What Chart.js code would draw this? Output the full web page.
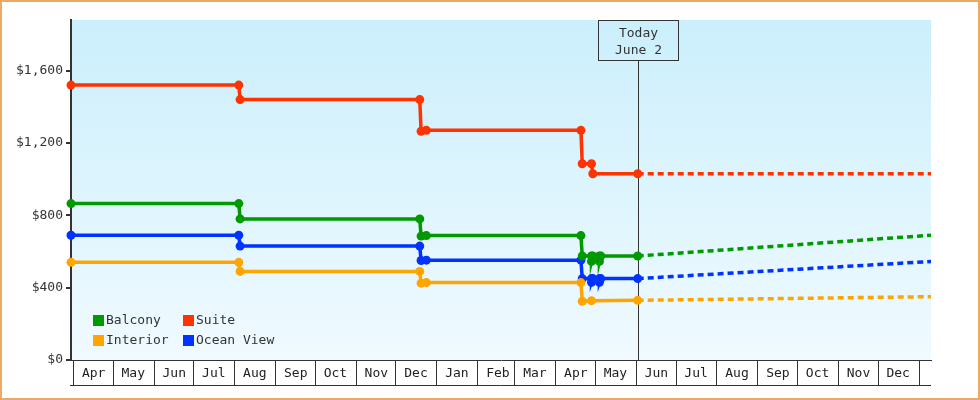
<!DOCTYPE html>
<html>
<head>
<meta charset="utf-8">
<script src="https://cdn.jsdelivr.net/npm/chart.js@4.4.1/dist/chart.umd.min.js"></script>
<style>
  html, body { margin: 0; padding: 0; background: #fff; }
  #wrap { width: 980px; height: 400px; box-sizing: border-box; border: 2px solid #eba964; background: #fff; }
  #chart { display: block; }
</style>
</head>
<body>
<div id="wrap"><canvas id="chart" width="976" height="396"></canvas></div>
<script>
// price history per cabin type: [date, price]
const balcony = [
  ['2009-03-30', 865], ['2009-08-04', 865], ['2009-08-05', 780], ['2009-12-19', 780],
  ['2009-12-20', 685], ['2009-12-24', 688], ['2010-04-20', 688], ['2010-04-21', 575],
  ['2010-04-28', 575], ['2010-04-28', 545], ['2010-04-29', 575], ['2010-05-04', 575],
  ['2010-05-04', 545], ['2010-05-05', 575], ['2010-06-02', 575]
];
const suite = [
  ['2009-03-30', 1520], ['2009-08-04', 1520], ['2009-08-05', 1440], ['2009-12-19', 1440],
  ['2009-12-20', 1265], ['2009-12-24', 1270], ['2010-04-20', 1270], ['2010-04-21', 1085],
  ['2010-04-28', 1085], ['2010-04-29', 1030], ['2010-06-02', 1030]
];
const interior = [
  ['2009-03-30', 540], ['2009-08-04', 540], ['2009-08-05', 490], ['2009-12-19', 490],
  ['2009-12-20', 425], ['2009-12-24', 428], ['2010-04-20', 428], ['2010-04-21', 325],
  ['2010-04-28', 328], ['2010-06-02', 330]
];
const oceanView = [
  ['2009-03-30', 690], ['2009-08-04', 690], ['2009-08-05', 630], ['2009-12-19', 630],
  ['2009-12-20', 550], ['2009-12-24', 552], ['2010-04-20', 552], ['2010-04-21', 450],
  ['2010-04-28', 450], ['2010-04-28', 430], ['2010-04-29', 450], ['2010-05-04', 450],
  ['2010-05-04', 430], ['2010-05-05', 450], ['2010-06-02', 450]
];

// forecast from today to end of range (dotted)
const forecastEnd = '2011-01-10';
const balconyForecast = [['2010-06-02', 575], [forecastEnd, 690]];
const suiteForecast = [['2010-06-02', 1030], [forecastEnd, 1030]];
const interiorForecast = [['2010-06-02', 330], [forecastEnd, 350]];
const oceanForecast = [['2010-06-02', 450], [forecastEnd, 545]];

const seriesNames = ['Balcony', 'Suite', 'Interior', 'Ocean View'];
const seriesColors = ['#009900', '#ff3300', '#ffa500', '#0033ff'];

const startDate = '2009-03-30';
const todayDate = '2010-06-02';
const todayText = ['Today', 'June 2'];

const monthStarts = [
  '2009-04-01', '2009-05-01', '2009-06-01', '2009-07-01', '2009-08-01', '2009-09-01',
  '2009-10-01', '2009-11-01', '2009-12-01', '2010-01-01', '2010-02-01', '2010-03-01',
  '2010-04-01', '2010-05-01', '2010-06-01', '2010-07-01', '2010-08-01', '2010-09-01',
  '2010-10-01', '2010-11-01', '2010-12-01', '2011-01-01'
];
const monthLabels = ['Apr', 'May', 'Jun', 'Jul', 'Aug', 'Sep', 'Oct', 'Nov', 'Dec', 'Jan', 'Feb', 'Mar',
  'Apr', 'May', 'Jun', 'Jul', 'Aug', 'Sep', 'Oct', 'Nov', 'Dec'];
const yTicks = [0, 400, 800, 1200, 1600];
const yMax = 1880;

const FONT = { family: '"DejaVu Sans Mono", monospace', size: 13 };
const INK = '#333';

const toDay = s => Date.parse(s + 'T00:00:00Z') / 864e5;
const pts = arr => arr.map(([d, v]) => ({ x: toDay(d), y: v }));

const history = [balcony, suite, interior, oceanView];
const forecasts = [balconyForecast, suiteForecast, interiorForecast, oceanForecast];

const datasets = [];
history.forEach((h, i) => {
  datasets.push({
    label: seriesNames[i], data: pts(h), borderColor: seriesColors[i],
    backgroundColor: seriesColors[i], pointBackgroundColor: seriesColors[i],
    borderWidth: 3.5, pointRadius: 4.5, pointHoverRadius: 4.5, pointBorderWidth: 0,
    tension: 0, clip: false, inLegend: true
  });
});
forecasts.forEach((f, i) => {
  datasets.push({
    label: seriesNames[i] + ' forecast', data: pts(f), borderColor: seriesColors[i],
    borderWidth: 3.5, borderDash: [6, 4], pointRadius: 0, tension: 0, clip: false
  });
});

// gradient behind the plot area
const plotBg = {
  id: 'plotBg',
  beforeDraw(chart) {
    const { ctx, chartArea: a } = chart;
    const g = ctx.createLinearGradient(0, a.top, 0, a.bottom);
    g.addColorStop(0, '#cbeffc');
    g.addColorStop(1, '#f0faff');
    ctx.save();
    ctx.fillStyle = g;
    ctx.fillRect(a.left, a.top, a.right - a.left, a.bottom - a.top);
    ctx.restore();
  }
};

// "Today" line + label box
const todayMarker = {
  id: 'todayMarker',
  beforeDatasetsDraw(chart) {
    const { ctx, chartArea: a } = chart;
    const x = Math.round(chart.scales.x.getPixelForValue(toDay(todayDate))) + 0.5;
    const boxW = 80, boxH = 40;
    ctx.save();
    ctx.strokeStyle = INK;
    ctx.lineWidth = 1;
    ctx.beginPath();
    ctx.moveTo(x, a.top + boxH);
    ctx.lineTo(x, a.bottom);
    ctx.stroke();
    ctx.strokeRect(x - boxW / 2, a.top + 0.5, boxW, boxH);
    ctx.fillStyle = INK;
    ctx.font = `${FONT.size}px ${FONT.family}`;
    ctx.textAlign = 'center';
    ctx.textBaseline = 'middle';
    ctx.fillText(todayText[0], x, a.top + 14);
    ctx.fillText(todayText[1], x, a.top + 31);
    ctx.restore();
  }
};

// legend inside plot, bottom-left, 2 columns
const cornerLegend = {
  id: 'cornerLegend',
  afterDraw(chart) {
    const { ctx, chartArea: a } = chart;
    const items = chart.data.datasets.filter(d => d.inLegend);
    ctx.save();
    ctx.font = `${FONT.size}px ${FONT.family}`;
    ctx.textBaseline = 'middle';
    ctx.textAlign = 'left';
    items.forEach((d, i) => {
      const bx = a.left + 22 + (i % 2) * 90;
      const by = a.bottom - 45 + Math.floor(i / 2) * 20;
      ctx.fillStyle = d.borderColor;
      ctx.fillRect(bx, by, 11, 11);
      ctx.fillStyle = INK;
      ctx.fillText(d.label, bx + 13, by + 6);
    });
    // bottom rule under the month band
    const y = a.bottom + 25.5;
    ctx.strokeStyle = INK;
    ctx.lineWidth = 1;
    ctx.beginPath();
    ctx.moveTo(a.left - 1, y);
    ctx.lineTo(a.right, y);
    ctx.stroke();
    ctx.restore();
  }
};

new Chart(document.getElementById('chart'), {
  type: 'line',
  data: { datasets },
  options: {
    responsive: false,
    devicePixelRatio: 1,
    animation: false,
    layout: { padding: { top: 18, right: 47, left: 0, bottom: 0 } },
    plugins: { legend: { display: false }, tooltip: { enabled: false } },
    scales: {
      x: {
        type: 'linear',
        min: toDay(startDate),
        max: toDay(forecastEnd),
        afterFit(s) { s.height = 38; },
        afterBuildTicks(s) { s.ticks = monthStarts.map(m => ({ value: toDay(m) })); },
        grid: { drawOnChartArea: false, drawTicks: true, tickLength: 25, color: INK, lineWidth: 1 },
        border: { display: true, color: INK, width: 1 },
        ticks: {
          autoSkip: false, maxRotation: 0, minRotation: 0,
          labelOffset: 20, padding: -19, color: '#222', font: FONT,
          callback: (v, i) => monthLabels[i] || ''
        }
      },
      y: {
        min: 0,
        max: yMax,
        afterFit(s) { s.width = 69; },
        afterBuildTicks(s) { s.ticks = yTicks.map(v => ({ value: v })); },
        grid: { drawOnChartArea: false, drawTicks: true, tickLength: 5, color: INK, lineWidth: 2 },
        border: { display: true, color: INK, width: 2 },
        ticks: {
          padding: 3, color: INK, font: FONT,
          callback: v => '$' + Number(v).toLocaleString('en-US')
        }
      }
    }
  },
  plugins: [plotBg, todayMarker, cornerLegend]
});
</script>
</body>
</html>
